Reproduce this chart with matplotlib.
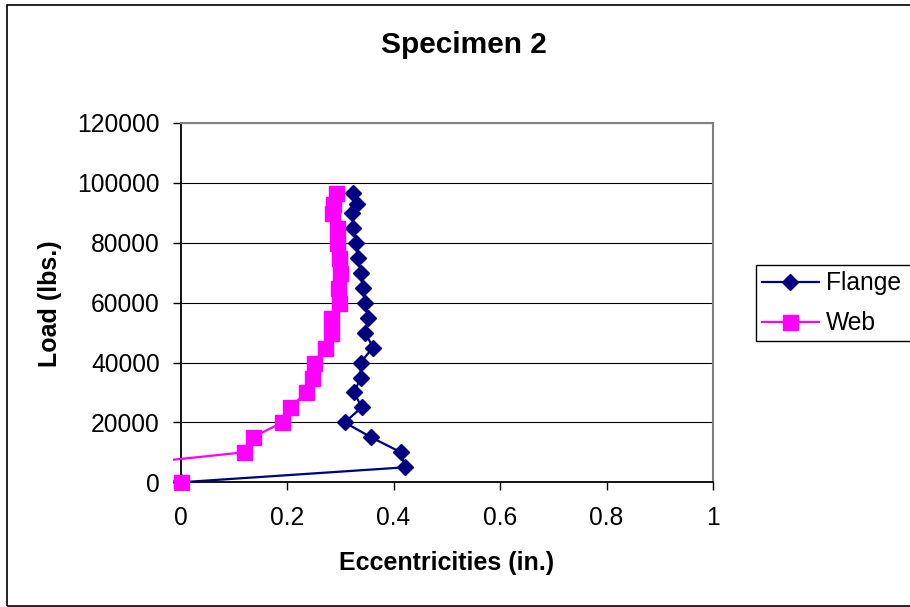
import matplotlib
matplotlib.use("Agg")
import matplotlib.pyplot as plt
from matplotlib.patches import Rectangle

plt.rcParams['font.family'] = ['Liberation Sans', 'DejaVu Sans']

loads = [0, 5000, 10000, 15000, 20000, 25000, 30000, 35000, 40000, 45000, 50000,
         55000, 60000, 65000, 70000, 75000, 80000, 85000, 90000, 93000, 96500]
flange = [0, 0.421, 0.414, 0.358, 0.308, 0.340, 0.326, 0.338, 0.338, 0.361, 0.347,
          0.352, 0.346, 0.342, 0.338, 0.333, 0.330, 0.324, 0.322, 0.331, 0.324]
web = [0, -0.15, 0.118, 0.135, 0.191, 0.206, 0.235, 0.247, 0.250, 0.271, 0.282,
       0.283, 0.298, 0.296, 0.299, 0.297, 0.293, 0.294, 0.285, 0.287, 0.291]

x_ticks = [0, 0.2, 0.4, 0.6, 0.8, 1]
x_tick_labels = ['0', '0.2', '0.4', '0.6', '0.8', '1']
y_ticks = [0, 20000, 40000, 60000, 80000, 100000, 120000]

W, H = 910, 607
fig = plt.figure(figsize=(W / 100, H / 100), dpi=100)
fig.patch.set_facecolor('white')

# outer chart border
fig.add_artist(Rectangle((7 / W, 1 - 606 / H), 1.0, (606 - 5) / H,
                         transform=fig.transFigure, fill=False,
                         edgecolor='black', linewidth=1.2))

left, right, top, bottom = 180.7, 713.0, 123.0, 482.3
ax = fig.add_axes([left / W, 1 - bottom / H, (right - left) / W, (bottom - top) / H])
ax.set_xlim(0, 1)
ax.set_ylim(0, 120000)
ax.set_xticks(x_ticks)
ax.set_xticklabels(x_tick_labels)
ax.set_yticks(y_ticks)
ax.set_yticklabels([str(v) for v in y_ticks])

ax.grid(axis='y', color='black', linewidth=0.8)
ax.set_axisbelow(True)
for s in ['top', 'right']:
    ax.spines[s].set_color('#808080')
    ax.spines[s].set_linewidth(1.5)
for s in ['left', 'bottom']:
    ax.spines[s].set_color('black')
    ax.spines[s].set_linewidth(1.3)

ax.tick_params(axis='both', direction='out', length=6, width=1, labelsize=17.7, colors='black')
ax.tick_params(axis='x', pad=11)
ax.tick_params(axis='y', pad=9)

# clip region slightly larger than the plot area (as in the original)
pw, ph = right - left, bottom - top
clip = Rectangle((-8 / pw, -8 / ph), 1 + 8 / pw, 1 + 8 / ph, transform=ax.transAxes,
                 fill=False, visible=False)
ax.add_patch(clip)

l1, = ax.plot(flange, loads, color='#000080', linewidth=1.6, marker='D', markersize=8.2,
              markerfacecolor='#000080', markeredgecolor='#000080', label='Flange', zorder=3)
l2, = ax.plot(web, loads, color='#FF00FF', linewidth=1.6, marker='s', markersize=10.8,
              markerfacecolor='#FF00FF', markeredgecolor='#FF00FF', label='Web', zorder=4)
l1.set_clip_path(clip)
l2.set_clip_path(clip)

ax.set_xlabel('Eccentricities (in.)', fontsize=18, fontweight='bold')
ax.xaxis.label.set_va('center')
ax.xaxis.set_label_coords(0.5, (bottom - 563) / ph)
ax.set_ylabel('Load (lbs.)', fontsize=18, fontweight='bold')
ax.yaxis.label.set_va('center')
ax.yaxis.set_label_coords((50 - left) / pw, 0.5 - (304 - (top + bottom) / 2) / ph)

fig.text(464 / W, 1 - 53.3 / H, 'Specimen 2', ha='center', va='baseline',
         fontsize=21.5, fontweight='bold')

leg = fig.legend(handles=[l1, l2], loc='upper left',
                 bbox_to_anchor=(756 / W, 1 - 345 / H, 190 / W, 80 / H), mode='expand',
                 borderaxespad=0, fontsize=17.7, frameon=True, fancybox=False,
                 edgecolor='black', framealpha=1, handlelength=2.3, handletextpad=0.3,
                 borderpad=0.25, labelspacing=0.65)
leg.get_frame().set_linewidth(1.0)

fig.savefig('out.png', dpi=100, facecolor='white')
